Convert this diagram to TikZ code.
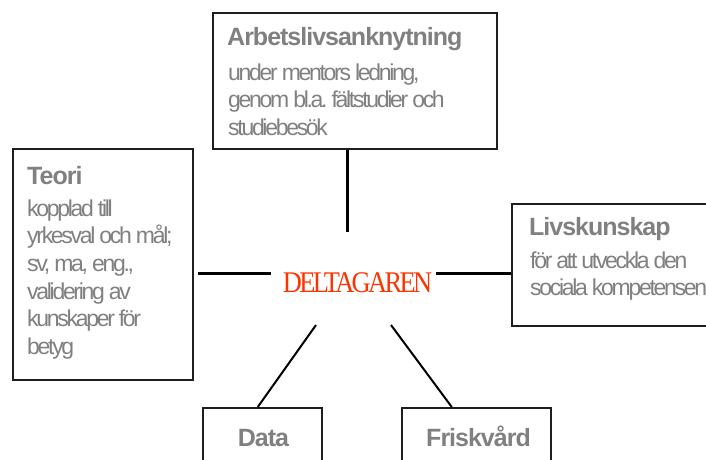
\documentclass[tikz,border=0pt]{standalone}
\usepackage{fontspec}
\setmainfont{Liberation Sans}
\newfontfamily\bodyfont{Liberation Sans}[LetterSpace=-10]
\newfontfamily\headfont{Liberation Sans}[LetterSpace=-4]
\newfontfamily\centerfont{Liberation Serif}[LetterSpace=-10]
\definecolor{txtgray}{RGB}{128,128,128}
\definecolor{boxline}{RGB}{30,30,30}
\definecolor{deltared}{RGB}{255,51,0}
\newcommand\mytightspaces{\spaceskip=4pt\relax}
\tikzset{
  box/.style={draw=boxline, line width=1.5pt, inner sep=0pt, anchor=north west},
  head/.style={anchor=base west, inner sep=0pt, text=txtgray, font=\headfont\bfseries\fontsize{25}{28}\selectfont},
  body/.style={anchor=base west, inner sep=0pt, text=txtgray, text width=#1, align=left,
    font=\bodyfont\frenchspacing\fontsize{23}{27.7}\selectfont,
    execute at begin node=\mytightspaces},
  body/.default=190pt,
  thick line/.style={line width=3pt, black},
  diag line/.style={line width=2pt, black},
}
\begin{document}
\begin{tikzpicture}[x=1pt,y=-1pt]
\useasboundingbox (0,0) rectangle (706,459);
\clip (0,0) rectangle (706,459);
% boxes
\node[box, minimum width=284pt, minimum height=136pt] (top) at (212,12) {};
\node[box, minimum width=180pt, minimum height=231pt] (left) at (12,148) {};
\node[box, minimum width=202pt, minimum height=122pt] (right) at (511,203) {};
\node[box, minimum width=119pt, minimum height=70pt] (data) at (202,407) {};
\node[box, minimum width=149pt, minimum height=70pt] (frisk) at (401,407) {};
% texts
\node[head] (tophead) at (227,45) {Arbetslivsanknytning};
\node[body=270pt] (topbody) at (228,80) {under mentors ledning,\\genom bl.a. fältstudier och\\studiebesök};
\node[head] (lefthead) at (27,184) {Teori};
\node[body=170pt] (leftbody) at (27,216) {kopplad till\\yrkesval och mål;\\sv, ma, eng.,\\validering av\\kunskaper för\\betyg};
\node[head] (righthead) at (529,235) {Livskunskap};
\node[body=200pt] (rightbody) at (530,268) {för att utveckla den\\sociala kompetensen};
\node[head, anchor=base] (datatext) at (263.5,446) {Data};
\node[head, anchor=base] (frisktext) at (478.5,446) {Friskvård};
% centre
\node[anchor=base, inner sep=0pt, text=deltared] (centre) at (357.5,292)
  {\scalebox{0.88}[1]{\centerfont\fontsize{30}{30}\selectfont DELTAGAREN}};
% free ends
\coordinate (cL) at (271,273);
\coordinate (cR) at (436,273);
\coordinate (cT) at (347,232);
\coordinate (cDL) at (316,325);
\coordinate (cDR) at (391,325);
% connectors
\draw[thick line, shorten <=4pt] (left.east |- cL) -- (cL);
\draw[thick line] (cR) -- (right.west |- cR);
\draw[thick line] (cT |- top.south) -- (cT);
\draw[diag line] (cDL) -- ([xshift=-4.5pt]data.north);
\draw[diag line] (cDR) -- ([xshift=-24.5pt]frisk.north);
\end{tikzpicture}
\end{document}
